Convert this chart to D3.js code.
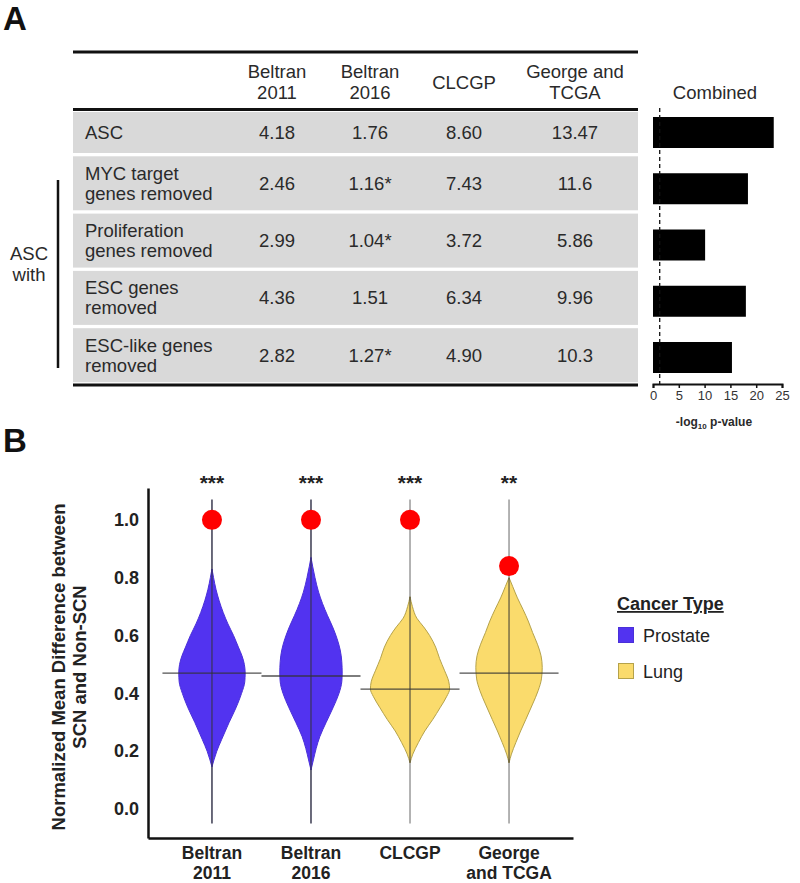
<!DOCTYPE html>
<html>
<head>
<meta charset="utf-8">
<script src="https://cdn.jsdelivr.net/npm/d3@7"></script>
<style>
  html, body { margin: 0; padding: 0; background: #fff; }
  svg { display: block; font-family: "Liberation Sans", Arial, sans-serif; }
</style>
</head>
<body>
<svg id="chart" width="800" height="883"></svg>
<script>
// ---------------- Panel A data ----------------
const tableColumns = [["Beltran", "2011"], ["Beltran", "2016"], ["CLCGP"], ["George and", "TCGA"]];
const rowLabels = [["ASC"], ["MYC target", "genes removed"], ["Proliferation", "genes removed"], ["ESC genes", "removed"], ["ESC-like genes", "removed"]];
const beltran2011Values = ["4.18", "2.46", "2.99", "4.36", "2.82"];
const beltran2016Values = ["1.76", "1.16*", "1.04*", "1.51", "1.27*"];
const clcgpValues = ["8.60", "7.43", "3.72", "6.34", "4.90"];
const georgeTcgaValues = ["13.47", "11.6", "5.86", "9.96", "10.3"];
const combinedValues = [23.4, 18.4, 10.1, 18.0, 15.3];
const significanceThreshold = 1.3;
const combinedTicks = [0, 5, 10, 15, 20, 25];

// ---------------- Panel B data ----------------
const violinCategories = [["Beltran", "2011"], ["Beltran", "2016"], ["CLCGP"], ["George", "and TCGA"]];
const cancerTypes = ["Prostate", "Prostate", "Lung", "Lung"];
const observedValues = [1.0, 1.0, 1.0, 0.84];
const medianValues = [0.47, 0.46, 0.415, 0.47];
const significanceStars = ["***", "***", "***", "**"];
const rangeMin = [-0.05, -0.05, -0.05, -0.05];
const rangeMax = [1.07, 1.07, 1.07, 1.07];
// [value, relative density (% of the widest violin)]
const densityBeltran2011 = [[0.146,0],[0.17,5],[0.20,12],[0.24,24],[0.30,43],[0.35,60],[0.40,74],[0.44,82],[0.47,83],[0.50,81],[0.53,75],[0.56,66],[0.60,54],[0.64,40],[0.68,28],[0.72,18],[0.76,10],[0.80,4],[0.83,0]];
const densityBeltran2016 = [[0.135,0],[0.17,6],[0.21,13],[0.25,22],[0.30,38],[0.35,55],[0.40,70],[0.44,77],[0.47,78],[0.51,77],[0.55,73],[0.59,65],[0.63,54],[0.67,41],[0.71,29],[0.75,19],[0.80,10],[0.84,4],[0.87,0]];
const densityClcgp = [[0.16,0],[0.19,7],[0.23,21],[0.27,37],[0.31,57],[0.35,75],[0.39,92],[0.415,99],[0.44,97],[0.48,86],[0.52,74],[0.56,64],[0.60,49],[0.63,34],[0.66,17],[0.70,6],[0.734,0]];
const densityGeorgeTcga = [[0.16,0],[0.19,6],[0.23,17],[0.27,29],[0.31,42],[0.36,58],[0.41,73],[0.45,81],[0.49,83],[0.53,80],[0.57,71],[0.61,59],[0.65,48],[0.69,35],[0.73,21],[0.77,9],[0.80,0]];
const densities = [densityBeltran2011, densityBeltran2016, densityClcgp, densityGeorgeTcga];
const yTicks = [0.0, 0.2, 0.4, 0.6, 0.8, 1.0];
const legendTypes = ["Prostate", "Lung"];

const typeFill = { Prostate: "#5233f0", Lung: "#fadb6c" };
const typeStroke = { Prostate: "#4a30d8", Lung: "#b5a24a" };
const typeWhisker = { Prostate: "#3a3a50", Lung: "#9a9a9a" };

const svg = d3.select("#chart");
const FONT = '"Liberation Sans", Arial, sans-serif';
const TXT = "#2a2a2a";

// ================= PANEL A =================
svg.append("text").attr("x", 3).attr("y", 30).attr("font-size", 33).attr("font-weight", "bold").attr("fill", "#111").text("A");

const tableLeft = 73, tableRight = 638;
const colX = d3.scaleOrdinal().domain(d3.range(4)).range([277, 370, 464, 575]);
const valueColumns = [beltran2011Values, beltran2016Values, clcgpValues, georgeTcgaValues];
const TFS = 18.5;

const rowTops = [], rowHeights = [];
{
  let y = 112;
  rowLabels.forEach((r, i) => {
    const h = i === 0 ? 41 : 54;
    rowTops.push(y); rowHeights.push(h);
    y += h + 3.3;
  });
}
const tableG = svg.append("g");
tableG.selectAll("rect.row").data(rowLabels).join("rect")
  .attr("x", tableLeft).attr("width", tableRight - tableLeft)
  .attr("y", (d, i) => rowTops[i]).attr("height", (d, i) => rowHeights[i])
  .attr("fill", "#d9d9d9");

[52, 109.5, 385].forEach(y => {
  tableG.append("line").attr("x1", tableLeft).attr("x2", tableRight).attr("y1", y).attr("y2", y)
    .attr("stroke", "#111").attr("stroke-width", 3);
});

tableColumns.forEach((lines, i) => {
  const t = tableG.append("text").attr("text-anchor", "middle").attr("font-size", TFS).attr("fill", TXT);
  if (lines.length === 1) {
    t.append("tspan").attr("x", colX(i)).attr("y", 89).text(lines[0]);
  } else {
    lines.forEach((l, j) => t.append("tspan").attr("x", colX(i)).attr("y", 78 + j * 21).text(l));
  }
});

rowLabels.forEach((lines, i) => {
  const cy = rowTops[i] + rowHeights[i] / 2;
  const t = tableG.append("text").attr("font-size", TFS).attr("fill", TXT);
  lines.forEach((l, j) => {
    t.append("tspan").attr("x", 85).attr("y", cy + 6.5 + (j - (lines.length - 1) / 2) * 20).text(l);
  });
  valueColumns.forEach((col, c) => {
    tableG.append("text").attr("x", colX(c)).attr("y", cy + 6.5).attr("text-anchor", "middle")
      .attr("font-size", TFS).attr("fill", TXT).text(col[i]);
  });
});

svg.append("line").attr("x1", 58).attr("x2", 58).attr("y1", 180).attr("y2", 368).attr("stroke", "#111").attr("stroke-width", 2.5);
const ascWith = svg.append("text").attr("text-anchor", "middle").attr("font-size", TFS).attr("fill", TXT);
ascWith.append("tspan").attr("x", 29).attr("y", 260).text("ASC");
ascWith.append("tspan").attr("x", 29).attr("y", 281).text("with");

// Combined bar chart
const bx = d3.scaleLinear().domain([0, 25]).range([653, 782]);
const by = d3.scalePoint().domain(d3.range(rowLabels.length)).range([132.5, 357.5]);
svg.append("text").attr("x", 715).attr("y", 99).attr("text-anchor", "middle").attr("font-size", TFS).attr("fill", TXT).text("Combined");
svg.selectAll("rect.bar").data(combinedValues).join("rect").attr("class", "bar")
  .attr("x", bx(0)).attr("width", d => bx(d) - bx(0))
  .attr("y", (d, i) => by(i) - 15.5).attr("height", 31).attr("fill", "#000");
svg.append("line").attr("x1", bx(significanceThreshold)).attr("x2", bx(significanceThreshold))
  .attr("y1", 108).attr("y2", 384).attr("stroke", "#111").attr("stroke-width", 1.3).attr("stroke-dasharray", "4,3");
const bAxis = svg.append("g").attr("transform", "translate(0,384)")
  .call(d3.axisBottom(bx).tickValues(combinedTicks).tickSize(4).tickSizeOuter(4).tickPadding(3));
bAxis.select(".domain").attr("stroke", "#111").attr("stroke-width", 2);
bAxis.selectAll(".tick line").attr("stroke", "#111").attr("stroke-width", 1.5);
bAxis.selectAll(".tick text").attr("font-size", 13).attr("font-family", FONT).attr("fill", "#333");
const logLabel = svg.append("text").attr("x", 714).attr("y", 426).attr("text-anchor", "middle")
  .attr("font-size", 12).attr("font-weight", "bold").attr("fill", TXT);
logLabel.append("tspan").text("-log");
logLabel.append("tspan").attr("font-size", 8).attr("dy", 3).text("10");
logLabel.append("tspan").attr("dy", -3).text(" p-value");

// ================= PANEL B =================
svg.append("text").attr("x", 3).attr("y", 452).attr("font-size", 33).attr("font-weight", "bold").attr("fill", "#111").text("B");

const vx = d3.scaleBand().domain(d3.range(violinCategories.length)).range([148, 573]).paddingOuter(0.146).paddingInner(0);
const vy = d3.scaleLinear().domain([-0.1, 1.11]).range([838, 488]);
const vw = d3.scaleLinear().domain([0, 100]).range([0, 40]);

const yAxisG = svg.append("g").attr("transform", "translate(148,0)")
  .call(d3.axisLeft(vy).tickValues(yTicks).tickFormat(d3.format(".1f")).tickSize(0).tickPadding(9));
yAxisG.select(".domain").attr("stroke", "#111").attr("stroke-width", 2.5);
yAxisG.selectAll(".tick text").attr("font-size", 18).attr("font-weight", "bold").attr("font-family", FONT).attr("fill", "#222");

const xAxisG = svg.append("g").attr("transform", "translate(0,838)")
  .call(d3.axisBottom(vx).tickSize(0).tickFormat(""));
xAxisG.select(".domain").attr("stroke", "#111").attr("stroke-width", 2.5);
violinCategories.forEach((lines, i) => {
  const t = svg.append("text").attr("text-anchor", "middle").attr("font-size", 17.5).attr("font-weight", "bold").attr("fill", "#222");
  lines.forEach((l, j) => t.append("tspan").attr("x", vx(i) + vx.bandwidth() / 2).attr("y", 859 + j * 20).text(l));
});

const yTitle = svg.append("text").attr("transform", "rotate(-90)").attr("text-anchor", "middle")
  .attr("font-size", 18.5).attr("font-weight", "bold").attr("fill", "#222");
yTitle.append("tspan").attr("x", -667).attr("y", 65).text("Normalized Mean Difference between");
yTitle.append("tspan").attr("x", -667).attr("y", 86).text("SCN and Non-SCN");

const area = d3.area()
  .y(d => vy(d[0]))
  .x0(d => -vw(d[1]))
  .x1(d => vw(d[1]))
  .curve(d3.curveMonotoneY);

violinCategories.forEach((cat, i) => {
  const cx = vx(i) + vx.bandwidth() / 2;
  const type = cancerTypes[i];
  const g = svg.append("g").attr("transform", `translate(${cx},0)`);
  const dens = densities[i];
  g.append("line").attr("x1", 0).attr("x2", 0).attr("y1", vy(rangeMax[i])).attr("y2", vy(rangeMin[i]))
    .attr("stroke", typeWhisker[type]).attr("stroke-width", 1.5);
  g.append("path").datum(dens).attr("d", area).attr("fill", typeFill[type])
    .attr("stroke", typeStroke[type]).attr("stroke-width", 1);
  g.append("line").attr("x1", 0).attr("x2", 0).attr("y1", vy(dens[dens.length - 1][0])).attr("y2", vy(dens[0][0]))
    .attr("stroke", "#333").attr("stroke-opacity", 0.75).attr("stroke-width", 1.3);
  svg.append("line").attr("x1", vx(i)).attr("x2", vx(i) + vx.bandwidth())
    .attr("y1", vy(medianValues[i])).attr("y2", vy(medianValues[i]))
    .attr("stroke", "#333").attr("stroke-opacity", 0.85).attr("stroke-width", 1.3);
  g.append("circle").attr("cx", 0).attr("cy", vy(observedValues[i])).attr("r", 10).attr("fill", "#ff0000");
  svg.append("text").attr("x", cx).attr("y", 490).attr("text-anchor", "middle")
    .attr("font-size", 21).attr("font-weight", "bold").attr("fill", "#222").text(significanceStars[i]);
});

svg.append("text").attr("x", 617).attr("y", 610).attr("font-size", 18).attr("font-weight", "bold")
  .attr("text-decoration", "underline").attr("fill", "#222").text("Cancer Type");
legendTypes.forEach((t, i) => {
  const y0 = 627 + i * 36;
  svg.append("rect").attr("x", 618.5).attr("y", y0 + 0.5).attr("width", 15).attr("height", 15)
    .attr("fill", typeFill[t]).attr("stroke", typeStroke[t]).attr("stroke-width", 1);
  svg.append("text").attr("x", 643).attr("y", y0 + 15).attr("font-size", 18).attr("fill", "#222").text(t);
});
</script>
</body>
</html>
